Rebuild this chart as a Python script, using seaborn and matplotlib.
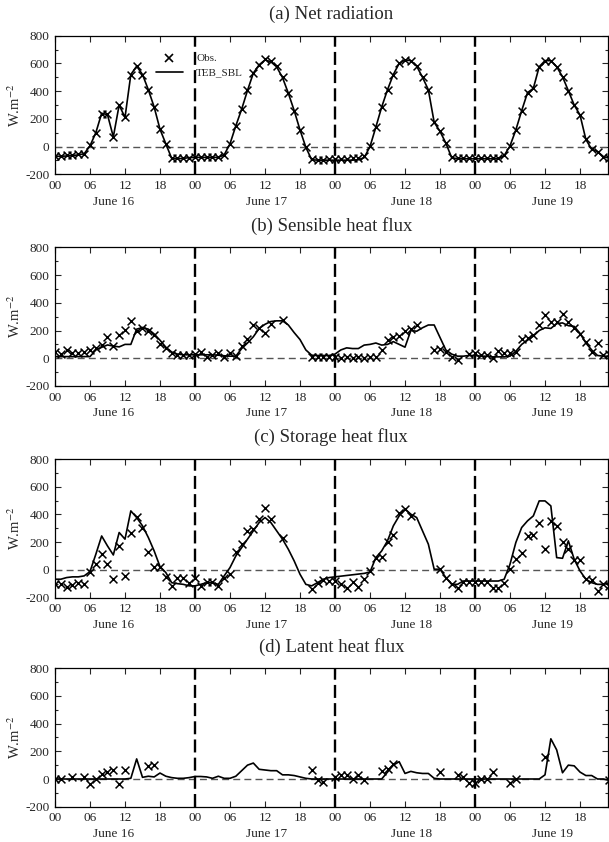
import numpy as np
import pandas as pd
import matplotlib
matplotlib.use("Agg")
import matplotlib.pyplot as plt
from matplotlib.lines import Line2D
from matplotlib.ticker import MultipleLocator, FixedLocator
import seaborn as sns

nan = np.nan
hours = list(range(96))
tick_hours = list(range(0, 96, 6))
tick_labels = ["00", "06", "12", "18"] * 4
day_labels = ["June 16", "June 17", "June 18", "June 19"]
day_label_pos = [10.0, 36.3, 61.1, 85.3]
day_bounds = [24, 48, 72]
titles = ["(a) Net radiation", "(b) Sensible heat flux",
          "(c) Storage heat flux", "(d) Latent heat flux"]

# (a) Net radiation
net_obs = [-65, -65, -62, -60, -55, -50, 8, 98, 238, 233, 70, 300, 215, 520, 580, 520, 410, 285, 125, 20, -80, -85, -82, -80,
           -75, -75, -75, -75, -75, -58, 20, 150, 270, 405, 530, 590, 630, 615, 580, 500, 385, 260, 120, -5, -90, -95, -95, -90,
           -90, -90, -88, -85, -80, -65, 5, 140, 285, 410, 520, 600, 625, 620, 580, 500, 410, 175, 110, 25, -75, -85, -85, -85,
           -85, -85, -85, -85, -85, -62, 5, 120, 259, 389, 420, 576, 620, 620, 576, 504, 403, 300, 228, 52, -20, -36, -72, -84]
net_mod = [-70, -70, -68, -65, -60, -52, 5, 100, 240, 230, 70, 300, 210, 520, 580, 520, 410, 285, 125, 20, -85, -88, -85, -80,
           -78, -78, -78, -78, -78, -60, 20, 150, 270, 405, 530, 590, 625, 612, 575, 498, 385, 260, 120, -5, -95, -98, -98, -98,
           -98, -98, -98, -98, -95, -80, 0, 140, 285, 410, 520, 600, 625, 620, 580, 500, 410, 175, 110, 25, -80, -88, -88, -88,
           -88, -88, -88, -88, -88, -65, 5, 120, 259, 389, 420, 576, 620, 620, 576, 504, 403, 300, 228, 52, -20, -36, -72, -84]

# (b) Sensible heat flux
sen_obs = [43, 28, 60, 36, 36, 48, 60, 72, 96, 150, 88, 165, 204, 268, 200, 220, 200, 168, 103, 72, 36, 26, 24, 20,
           28, 48, 12, 24, 36, 7, 40, 17, 90, 138, 240, 215, 185, 245, nan, 275, nan, nan, nan, nan, 12, 7, 7, 12,
           10, 5, 10, 5, 10, 5, 10, 10, 60, 135, 150, 160, 200, 210, 240, nan, nan, 60, 65, 45, 10, -10, nan, 30,
           35, 20, 20, 5, 55, 35, 35, 45, 140, 145, 165, 240, 315, 265, 260, 320, 265, 220, 175, 115, 45, 110, 20, 30]
sen_mod = [12, 12, 12, 12, 12, 12, 12, 60, 79, 96, 88, 82, 100, 100, 210, 222, 210, 175, 130, 80, 45, 30, 25, 25,
           25, 25, 25, 25, 22, 18, 15, 15, 70, 110, 155, 215, 245, 265, 270, 270, 240, 185, 135, 60, 22, 20, 20, 20,
           30, 60, 75, 70, 70, 95, 100, 110, 95, 100, 120, 100, 80, 200, 195, 220, 240, 240, 150, 60, 30, 15, 15, 20,
           20, 15, 15, 10, 10, 10, 15, 50, 100, 130, 160, 200, 220, 215, 250, 255, 235, 230, 180, 110, 60, 20, 15, 15]

# (c) Storage heat flux
sto_obs = [-104, -99, -120, -108, -92, -104, -12, 41, 118, 41, -67, 173, -43, 270, 383, 306, 133, 20, 20, -50, -115, -60, -60, -92,
           -55, -115, -87, -87, -115, -60, -27, 130, 185, 282, 294, 366, 450, 366, nan, 229, nan, nan, nan, nan, -135, -92, -75, -80,
           -80, -104, -128, -87, -123, -67, -7, 84, 94, 205, 250, 414, 439, 390, nan, nan, nan, nan, 5, -55, -99, -128, -87, -87,
           -87, -87, -87, -128, -128, -96, 5, 77, 125, 246, 253, 342, 149, 354, 318, 198, 154, 70, 70, -67, -75, -152, -99, -115]
sto_mod = [-67, -67, -55, -50, -50, -43, -12, 113, 245, 173, 108, 270, 222, 426, 378, 318, 234, 137, 24, -19, -92, -99, -104, -115,
           -115, -104, -92, -92, -104, -43, 17, 101, 161, 222, 282, 342, 378, 342, 282, 222, 149, 65, -31, -104, -115, -92, -67, -55,
           -50, -45, -40, -35, -30, -25, -15, 89, 137, 210, 318, 390, 440, 402, 378, 282, 186, 5, 5, -55, -104, -104, -80, -80,
           -80, -80, -80, -80, -80, -67, 41, 198, 306, 354, 390, 498, 498, 462, 89, 84, 210, 77, -7, -67, -92, -104, -104, -92]

# (d) Latent heat flux
lat_obs = [0, 0, nan, 17, nan, 17, -36, 0, 36, 53, 67, -36, 67, nan, nan, nan, 96, 101, nan, nan, nan, nan, nan, nan,
           nan, nan, nan, nan, nan, nan, nan, nan, nan, nan, nan, nan, nan, nan, nan, nan, nan, nan, nan, nan, 63, -7, -24, nan,
           12, 31, 31, 0, 31, -7, nan, nan, 55, 72, 108, nan, nan, nan, nan, nan, nan, nan, 48, nan, nan, 31, 17, -31,
           -31, 0, 0, 53, nan, nan, -31, 0, nan, nan, nan, nan, 157, nan, nan, nan, nan, nan, nan, nan, nan, nan, nan, -7]
lat_mod = [0, 0, 0, 0, 0, 0, 0, 0, 0, 0, 0, 0, 0, 5, 145, 12, 20, 15, 43, 20, 10, 5, 5, 10,
           18, 18, 15, 5, 20, 5, 5, 20, 60, 100, 115, 70, 65, 60, 60, 30, 30, 25, 15, 5, 0, 0, 0, 0,
           0, 0, 0, 0, 0, 0, 0, 0, 0, 50, 100, 125, 40, 55, 45, 40, 40, 5, 0, 0, 0, 0, 0, 0,
           0, 0, 0, 0, 0, 0, 0, 0, 0, 0, 0, 0, 30, 290, 210, 45, 100, 95, 50, 25, 25, 0, 0, -10]

obs_series = [net_obs, sen_obs, sto_obs, lat_obs]
mod_series = [net_mod, sen_mod, sto_mod, lat_mod]

sns.set_style("ticks")
plt.rcParams["font.family"] = ["Liberation Serif", "DejaVu Serif"]
plt.rcParams["mathtext.fontset"] = "stix"
plt.rcParams["axes.unicode_minus"] = False

fig = plt.figure(figsize=(6.09, 8.42), dpi=100)
bottoms = [0.793, 0.5416, 0.2902, 0.0419]
left, width, height = 0.0903, 0.9076, 0.1646

for i in range(4):
    ax = fig.add_axes([left, bottoms[i], width, height])
    df = pd.DataFrame({"hour": hours, "obs": obs_series[i], "mod": mod_series[i]})
    ax.axhline(0, color="#555555", lw=1.0, ls=(0, (5, 3)), zorder=1)
    for b in day_bounds:
        ax.axvline(b, color="black", lw=1.7, ls=(0, (5.5, 2.2)), zorder=1)
    sns.lineplot(data=df, x="hour", y="mod", ax=ax, color="black", lw=1.2, zorder=3)
    sns.scatterplot(data=df.dropna(subset=["obs"]), x="hour", y="obs", ax=ax, marker="x",
                    color="black", s=32, linewidth=1.1, zorder=4)
    ax.set_xlim(0, 94.75)
    ax.set_ylim(-200, 800)
    ax.xaxis.set_major_locator(FixedLocator(tick_hours))
    ax.set_xticklabels(tick_labels)
    ax.yaxis.set_major_locator(MultipleLocator(200))
    ax.yaxis.set_minor_locator(MultipleLocator(100))
    ax.tick_params(axis="both", which="both", direction="in", top=True, right=True,
                   labelsize=9.5, width=0.8, pad=4)
    ax.tick_params(axis="both", which="major", length=4)
    ax.tick_params(axis="y", which="minor", length=2.5)
    for sp in ax.spines.values():
        sp.set_linewidth(0.9)
        sp.set_color("black")
    ax.set_xlabel("")
    ax.set_ylabel("W.m$^{-2}$", fontsize=10.5)
    ax.yaxis.set_label_coords(-0.058, 0.5)
    ax.set_title(titles[i], fontsize=13.5, pad=12)
    trans = ax.get_xaxis_transform()
    for lbl, pos in zip(day_labels, day_label_pos):
        ax.text(pos, -0.198, lbl, transform=trans, ha="center", va="center",
                fontsize=9.5, clip_on=False)
    if i == 0:
        handles = [Line2D([], [], marker="x", color="black", ls="none", markersize=5.5, mew=1.2),
                   Line2D([], [], color="black", lw=1.2)]
        ax.legend(handles, ["Obs.", "TEB_SBL"], loc="upper left", bbox_to_anchor=(0.183, 0.87),
                  frameon=False, fontsize=8, handlelength=2.4, handletextpad=1.2,
                  labelspacing=0.4, borderpad=0, borderaxespad=0)

fig.savefig("out.png", dpi=100)
